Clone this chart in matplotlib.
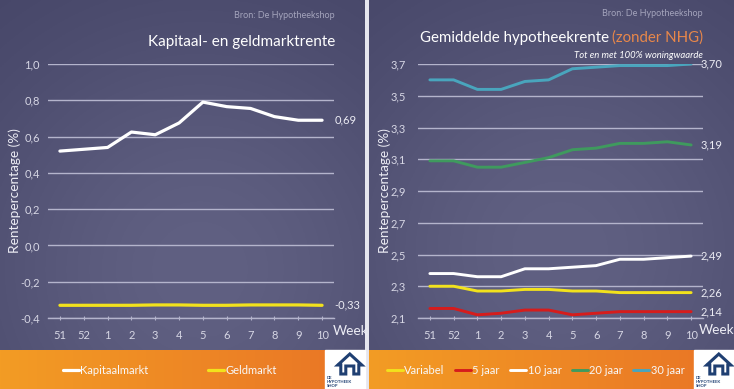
import matplotlib
matplotlib.use('Agg')
import matplotlib.pyplot as plt
import numpy as np
from matplotlib.patches import Rectangle, Polygon

plt.rcParams['font.family'] = ['Lato', 'DejaVu Sans']

# ---------------- data ----------------
weeks = ['51', '52', '1', '2', '3', '4', '5', '6', '7', '8', '9', '10']
kapitaalmarkt = [0.52, 0.53, 0.54, 0.625, 0.61, 0.675, 0.79, 0.765, 0.755, 0.71, 0.69, 0.69]
geldmarkt = [-0.33, -0.33, -0.33, -0.33, -0.328, -0.328, -0.33, -0.33, -0.328, -0.328, -0.328, -0.33]

variabel = [2.30, 2.30, 2.27, 2.27, 2.28, 2.28, 2.27, 2.27, 2.26, 2.26, 2.26, 2.26]
jaar5 = [2.16, 2.16, 2.12, 2.13, 2.15, 2.15, 2.12, 2.13, 2.14, 2.14, 2.14, 2.14]
jaar10 = [2.38, 2.38, 2.36, 2.36, 2.41, 2.41, 2.42, 2.43, 2.47, 2.47, 2.48, 2.49]
jaar20 = [3.09, 3.09, 3.05, 3.05, 3.08, 3.11, 3.16, 3.17, 3.20, 3.20, 3.21, 3.19]
jaar30 = [3.60, 3.60, 3.54, 3.54, 3.59, 3.60, 3.67, 3.68, 3.69, 3.69, 3.69, 3.70]

left_yticks = [-0.4, -0.2, 0.0, 0.2, 0.4, 0.6, 0.8, 1.0]
right_yticks = [2.1, 2.3, 2.5, 2.7, 2.9, 3.1, 3.3, 3.5, 3.7]

# ---------------- figure ----------------
W, H = 734, 389
fig = plt.figure(figsize=(W / 100, H / 100), dpi=100)


def px(x0, y0, x1, y1):
    return [x0 / W, 1 - y1 / H, (x1 - x0) / W, (y1 - y0) / H]


bg = fig.add_axes([0, 0, 1, 1])
bg.set_axis_off()
bg.add_patch(Rectangle((0, 0), W, H, color='#e6e6ee', zorder=0))

dark = np.array([0x42, 0x42, 0x64]) / 255
light = np.array([0x60, 0x60, 0x82]) / 255


def panel_bg(x0, x1, cx, cy):
    xs = np.linspace(x0, x1, 200)
    ys = np.linspace(0, 350, 200)
    X, Y = np.meshgrid(xs, ys)
    f = np.exp(-(((X - cx) / 260) ** 2 + ((Y - cy) / 260) ** 2))
    img = dark[None, None, :] + (light - dark)[None, None, :] * f[:, :, None]
    bg.imshow(img, extent=(x0, x1, 350, 0), aspect='auto', zorder=1)
    t = np.linspace(0, 1, 200)
    oa = np.array([0xf3, 0x9c, 0x24]) / 255
    ob = np.array([0xe9, 0x74, 0x26]) / 255
    og = oa[None, :] + (ob - oa)[None, :] * t[:, None]
    bg.imshow(og[None, :, :], extent=(x0, x1, H, 350), aspect='auto', zorder=1)


panel_bg(0, 365, 200, 270)
panel_bg(369, W, 560, 250)


def logo(x0, x1):
    bg.add_patch(Rectangle((x0, 350), x1 - x0, H - 350, color='white', zorder=3))
    cx = x0 + (x1 - x0) * 0.62
    navy = '#1f3f72'
    house = [(cx - 12, 365), (cx, 354), (cx + 12, 365), (cx + 9, 365), (cx + 9, 374),
             (cx + 4, 374), (cx + 4, 366), (cx - 4, 366), (cx - 4, 374), (cx - 9, 374),
             (cx - 9, 365)]
    bg.add_patch(Polygon(house, closed=True, fc='white', ec=navy, lw=2.2, zorder=4))
    for yy, s in ((378, 'DE'), (382, 'HYPOTHEEK'), (386, 'SHOP')):
        bg.text(x0 + 2, yy, s, fontsize=3.0, color=navy, weight='bold', zorder=5, va='center')


logo(325, 365)
logo(694, W)
bg.set_xlim(0, W)
bg.set_ylim(H, 0)

grid_c = '#b4b4cc'
tick_c = '#d6d6e4'
txt_c = '#ececf4'


def style_axes(ax, yticks, ylim, ypad):
    ax.set_facecolor('none')
    ax.set_xlim(-0.5, len(weeks) - 0.5)
    ax.set_ylim(*ylim)
    ax.set_yticks(yticks)
    ax.set_yticklabels([f'{v:.1f}'.replace('.', ',') for v in yticks])
    ax.set_xticks(range(len(weeks)))
    ax.set_xticklabels(weeks)
    for s in ['top', 'right', 'left']:
        ax.spines[s].set_visible(False)
    ax.spines['bottom'].set_color(grid_c)
    ax.spines['bottom'].set_linewidth(1.0)
    ax.grid(axis='y', color=grid_c, lw=1.0)
    ax.set_axisbelow(True)
    ax.tick_params(axis='y', length=0, labelsize=8, labelcolor=tick_c, pad=ypad)
    ax.tick_params(axis='x', length=3, direction='inout', color=grid_c,
                   labelsize=8, labelcolor=tick_c, pad=7)
    ax.set_ylabel('Rentepercentage (%)', fontsize=9.8, color=txt_c)


x = np.arange(len(weeks))

# ---------------- left panel ----------------
axL = fig.add_axes(px(48, 64, 334, 318))
style_axes(axL, left_yticks, (-0.4, 1.0), 6)
axL.yaxis.set_label_coords(-0.094, 0.5)
lk, = axL.plot(x, kapitaalmarkt, color='white', lw=2.3, solid_capstyle='round', label='Kapitaalmarkt')
lg, = axL.plot(x, geldmarkt, color='#f2e21c', lw=2.3, solid_capstyle='round', label='Geldmarkt')
for series in (kapitaalmarkt, geldmarkt):
    axL.annotate(f'{series[-1]:.2f}'.replace('.', ','), (x[-1], series[-1]), xytext=(9, 0),
                 textcoords='offset points', va='center', ha='left', fontsize=8,
                 color=txt_c, annotation_clip=False)
fig.text(333 / W, 1 - 331 / H, 'Week', fontsize=9.8, color=txt_c, va='center', ha='left')
fig.text(335 / W, 1 - 15 / H, 'Bron: De Hypotheekshop', fontsize=6.5, color='#a4a4bc',
         ha='right', va='center')
fig.text(335 / W, 1 - 42 / H, 'Kapitaal- en geldmarktrente', fontsize=11, color='white',
         ha='right', va='center')
axL.legend(handles=[lk, lg], loc='center left', bbox_to_anchor=(63 / W, 1 - 370 / H),
           bbox_transform=fig.transFigure, ncol=2, frameon=False, fontsize=8,
           handlelength=1.4, handletextpad=0.15, columnspacing=5.4, labelcolor='#f8f8f8',
           borderpad=0, borderaxespad=0)

# ---------------- right panel ----------------
axR = fig.add_axes(px(418, 64, 703, 318))
style_axes(axR, right_yticks, (2.1, 3.7), 8.5)
axR.yaxis.set_label_coords(-0.095, 0.5)
colors = ['#f2e21c', '#d61c1c', 'white', '#3f9a5e', '#49a5bd']
names = ['Variabel', '5 jaar', '10 jaar', '20 jaar', '30 jaar']
handles = []
for series, c, n in zip([variabel, jaar5, jaar10, jaar20, jaar30], colors, names):
    h, = axR.plot(x, series, color=c, lw=2.1, solid_capstyle='round', label=n)
    handles.append(h)
for series in (jaar30, jaar20, jaar10, variabel, jaar5):
    axR.annotate(f'{series[-1]:.2f}'.replace('.', ','), (x[-1], series[-1]), xytext=(7, 0),
                 textcoords='offset points', va='center', ha='left', fontsize=8,
                 color=txt_c, annotation_clip=False)
fig.text(699 / W, 1 - 330 / H, 'Week', fontsize=9.8, color=txt_c, va='center', ha='left')
fig.text(703 / W, 1 - 13 / H, 'Bron: De Hypotheekshop', fontsize=6.5, color='#a4a4bc',
         ha='right', va='center')
t1 = fig.text(703 / W, 1 - 38 / H, '(zonder NHG)', fontsize=10.8, color='#e8874a',
              ha='right', va='center')
fig.canvas.draw()
bb = t1.get_window_extent()
fig.text(bb.x0 / W - 0.004, 1 - 38 / H, 'Gemiddelde hypotheekrente', fontsize=10.8,
         color='white', ha='right', va='center')
fig.text(703 / W, 1 - 55 / H, 'Tot en met 100% woningwaarde', fontsize=6.8, color='white',
         style='italic', ha='right', va='center')
axR.legend(handles=handles, loc='center left', bbox_to_anchor=(387 / W, 1 - 370 / H),
           bbox_transform=fig.transFigure, ncol=5, frameon=False, fontsize=8,
           handlelength=1.4, handletextpad=0.15, columnspacing=0.95, labelcolor='#f8f8f8',
           borderpad=0, borderaxespad=0)

fig.savefig('out.png', dpi=100)
